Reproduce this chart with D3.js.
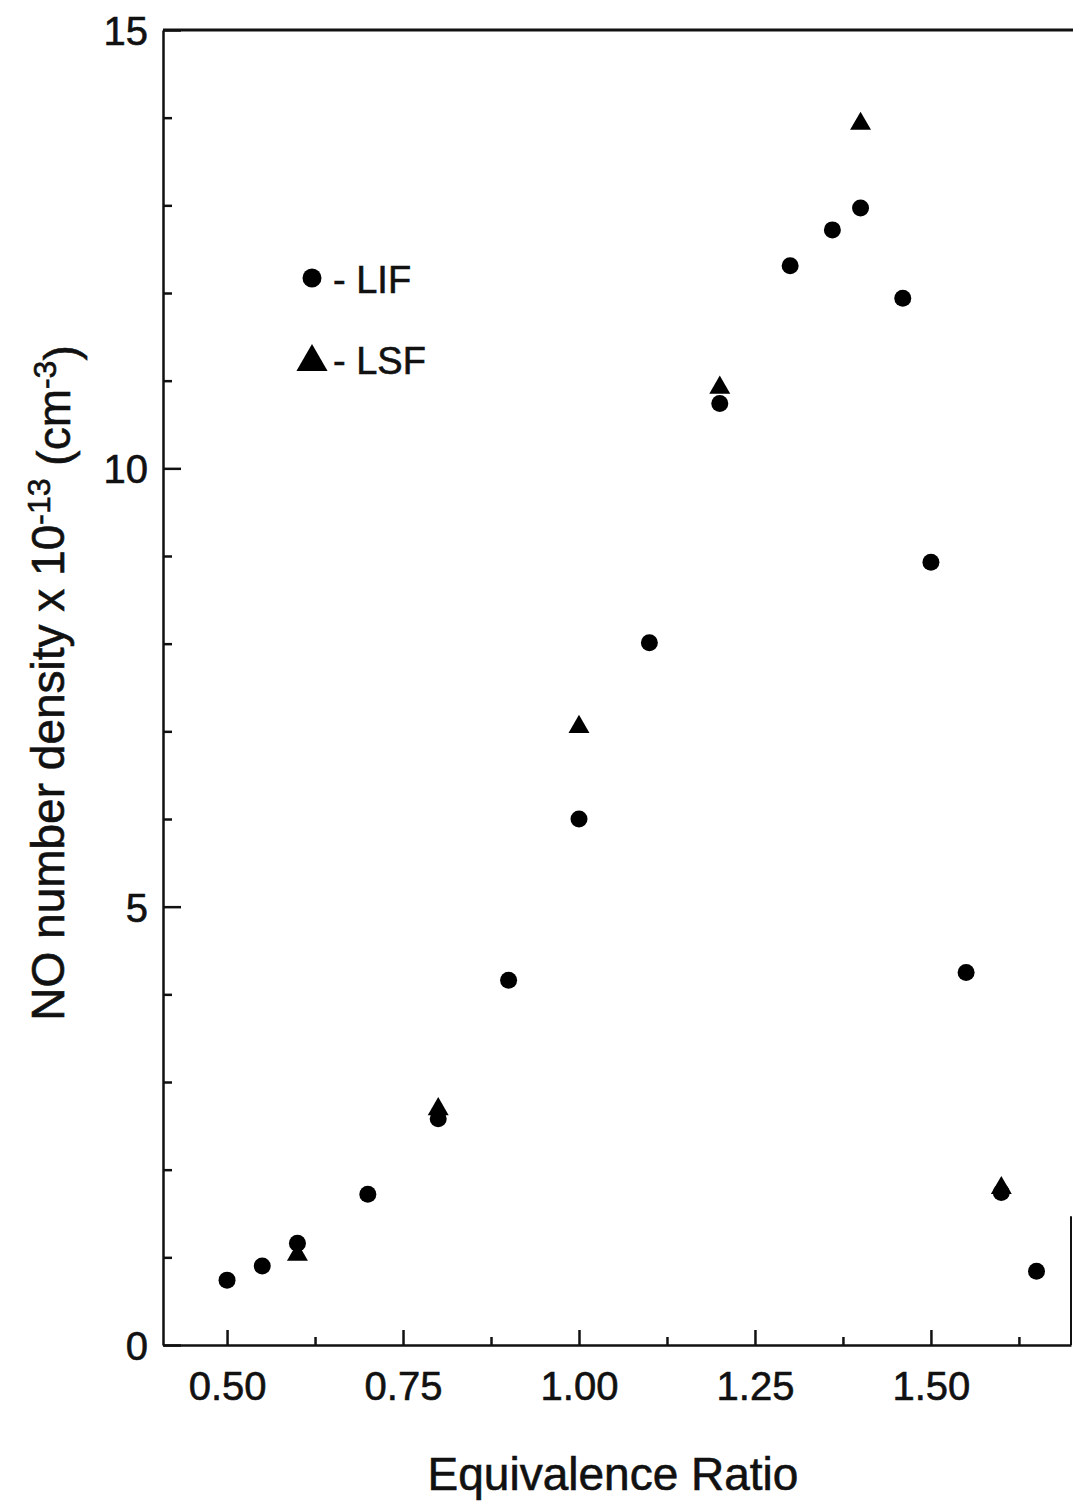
<!DOCTYPE html>
<html>
<head>
<meta charset="utf-8">
<script src="https://cdn.jsdelivr.net/npm/d3@7"></script>
<style>
  body { margin: 0; background: #fff; }
  text { font-family: "Liberation Sans", Arial, sans-serif; fill: #111; stroke: #111; stroke-width: 0.6px; }
</style>
</head>
<body>
<div id="chart"></div>
<script>
// values
const lifRatio = [0.50, 0.55, 0.60, 0.70, 0.80, 0.90, 1.00, 1.10, 1.20, 1.30, 1.36, 1.40, 1.46, 1.50, 1.55, 1.60, 1.65];
const lifDensity = [0.74, 0.90, 1.16, 1.72, 2.58, 4.16, 6.00, 8.01, 10.74, 12.31, 12.72, 12.97, 11.94, 8.93, 4.25, 1.74, 0.84];

const lsfRatio = [0.60, 0.80, 1.00, 1.20, 1.40, 1.60];
const lsfDensity = [1.03, 2.69, 7.05, 10.92, 13.93, 1.79];

const xMajor = [0.50, 0.75, 1.00, 1.25, 1.50];
const xMinor = [0.625, 0.875, 1.125, 1.375, 1.625];
const yMajor = [0, 5, 10, 15];
const yMinor = [1, 2, 3, 4, 6, 7, 8, 9, 11, 12, 13, 14];

const width = 1073;
const height = 1502;
const margin = {left: 163, right: 2, top: 30, bottom: 157};

const xScale = d3.scaleLinear()
    .domain([0.409, 1.699])
    .range([margin.left, width - margin.right]);

const yScale = d3.scaleLinear()
    .domain([0, 15])
    .range([height - margin.bottom, margin.top]);

const svg = d3.select("#chart")
    .append("svg")
    .attr("width", width)
    .attr("height", height);

// frame: top line and the bit of right edge that survives in the scan
svg.append("line")
    .attr("x1", margin.left).attr("x2", width)
    .attr("y1", yScale(15)).attr("y2", yScale(15))
    .attr("stroke", "#111").attr("stroke-width", 3);

svg.append("line")
    .attr("x1", xScale(1.699)).attr("x2", xScale(1.699))
    .attr("y1", yScale(0)).attr("y2", yScale(1.47))
    .attr("stroke", "#111").attr("stroke-width", 2);

// y axis, ticks point inward
const yAxis = svg.append("g")
    .attr("transform", `translate(${margin.left},0)`)
    .call(d3.axisLeft(yScale).tickValues(yMajor).tickSize(-18).tickPadding(15).tickSizeOuter(0).tickFormat(d3.format("d")));
yAxis.append("g")
    .call(d3.axisLeft(yScale).tickValues(yMinor).tickSize(-9).tickFormat(""))
    .select(".domain").remove();

// x axis, ticks point up
const xAxis = svg.append("g")
    .attr("transform", `translate(0,${yScale(0)})`)
    .call(d3.axisBottom(xScale).tickValues(xMajor).tickSize(-15).tickPadding(26).tickSizeOuter(0).tickFormat(d3.format(".2f")));
xAxis.append("g")
    .call(d3.axisBottom(xScale).tickValues(xMinor).tickSize(-8).tickFormat(""))
    .select(".domain").remove();

svg.selectAll(".domain").attr("stroke", "#111").attr("stroke-width", 2.5);
svg.selectAll(".tick line").attr("stroke", "#111").attr("stroke-width", 2.5);
svg.selectAll(".tick text").attr("font-family", null);
yAxis.selectAll(".tick text").attr("font-size", "40px").attr("dy", "0.36em");
xAxis.selectAll(".tick text").attr("font-size", "40px").attr("dy", "0.72em");

// axis titles
svg.append("text")
    .attr("x", 613)
    .attr("y", 1490)
    .attr("text-anchor", "middle")
    .attr("font-size", "46px")
    .text("Equivalence Ratio");

const yTitle = svg.append("text")
    .attr("transform", "translate(64,683) rotate(-90)")
    .attr("text-anchor", "middle")
    .attr("font-size", "46px");
yTitle.append("tspan").text("NO number density x 10");
yTitle.append("tspan").attr("dy", "-0.45em").attr("font-size", "32px").text("-13");
yTitle.append("tspan").attr("dy", "0.45em").text(" (cm");
yTitle.append("tspan").attr("dy", "-0.45em").attr("font-size", "32px").text("-3");
yTitle.append("tspan").attr("dy", "0.45em").text(")");

// markers
const triangle = d3.symbol().type(d3.symbolTriangle);

const lif = lifRatio.map((r, i) => ({ratio: r, density: lifDensity[i]}));
const lsf = lsfRatio.map((r, i) => ({ratio: r, density: lsfDensity[i]}));

svg.selectAll(".lif")
    .data(lif)
    .enter()
    .append("circle")
        .attr("class", "lif")
        .attr("cx", (d) => xScale(d.ratio))
        .attr("cy", (d) => yScale(d.density))
        .attr("r", 8.5)
        .attr("fill", "#000");

svg.selectAll(".lsf")
    .data(lsf)
    .enter()
    .append("path")
        .attr("class", "lsf")
        .attr("transform", (d) => `translate(${xScale(d.ratio)},${yScale(d.density)})`)
        .attr("d", triangle.size(190))
        .attr("fill", "#000");

// legend
svg.append("circle")
    .attr("cx", 312).attr("cy", 278).attr("r", 9.5)
    .attr("fill", "#000");
svg.append("text")
    .attr("x", 333).attr("y", 293)
    .attr("font-size", "38px")
    .text("- LIF");

svg.append("path")
    .attr("transform", "translate(312,362)")
    .attr("d", triangle.size(420))
    .attr("fill", "#000");
svg.append("text")
    .attr("x", 333).attr("y", 374)
    .attr("font-size", "38px")
    .text("- LSF");
</script>
</body>
</html>
